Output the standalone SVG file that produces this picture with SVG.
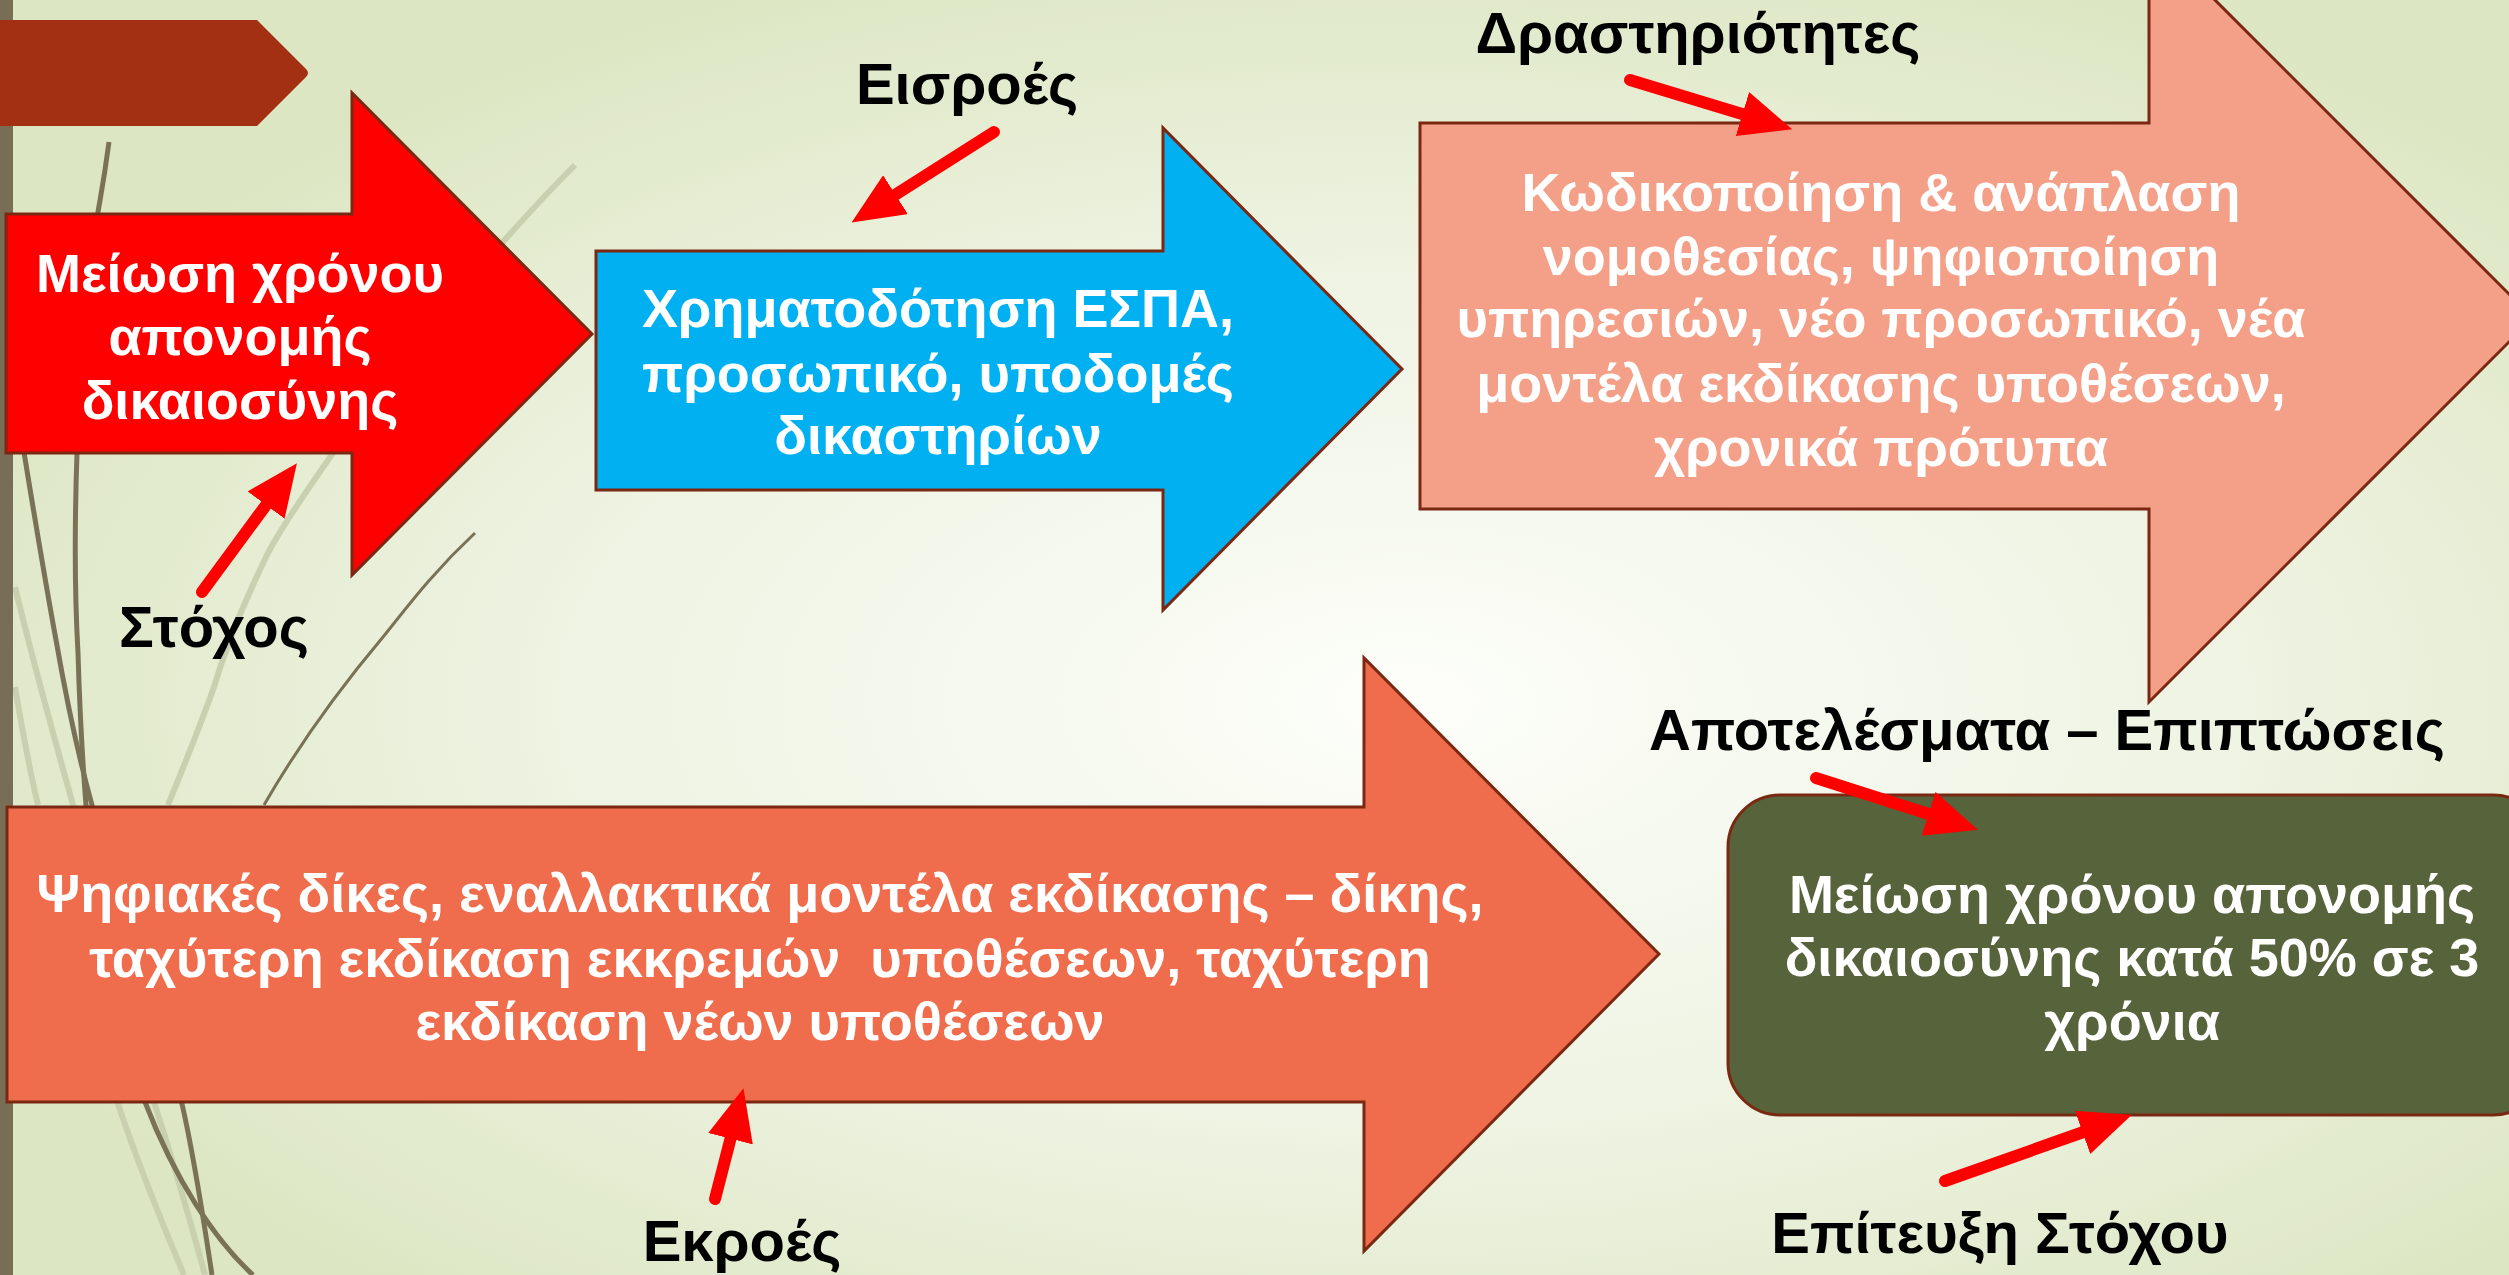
<svg xmlns="http://www.w3.org/2000/svg" width="2509" height="1275" viewBox="0 0 2509 1275">
  <defs>
    <radialGradient id="bg" cx="0.56" cy="0.55" r="0.62">
      <stop offset="0" stop-color="#fdfefa"/>
      <stop offset="0.55" stop-color="#eef3e2"/>
      <stop offset="1" stop-color="#dce6c2"/>
    </radialGradient>
    <marker id="ah" markerUnits="userSpaceOnUse" markerWidth="52" markerHeight="46" refX="10" refY="23" orient="auto" viewBox="0 0 52 46">
      <path d="M0,0 L52,23 L0,46 Z" fill="#ff0000"/>
    </marker>
    <style>
      .shape { stroke: #7b2812; stroke-width: 3; stroke-linejoin: miter; }
      .wt { font-family: "Liberation Sans", Arial, sans-serif; font-weight: bold; font-size: 54px; fill: #ffffff; text-anchor: middle; }
      .lb { font-family: "Liberation Sans", Arial, sans-serif; font-weight: bold; font-size: 58px; fill: #000000; text-anchor: middle; }
      .dk { fill: none; stroke: #7a7256; stroke-width: 5; }
      .dkt { fill: none; stroke: #7a7256; stroke-width: 3; }
      .lt { fill: none; stroke: #c9d0b0; stroke-width: 6; }
      .ltt { fill: none; stroke: #d3d9bd; stroke-width: 3; }
      .conn { stroke: #ff0000; stroke-width: 12; stroke-linecap: round; fill: none; marker-end: url(#ah); }
    </style>
  </defs>

  <rect x="0" y="0" width="2509" height="1275" fill="url(#bg)"/>

  <g id="decoration">
    <path class="lt" d="M15,687 C24,740 32,780 38,805"/>
    <path class="lt" d="M15,587 C35,670 55,740 73,805 C90,900 105,1040 118,1104 C140,1170 165,1230 184,1275"/>
    <path class="lt" d="M575,165 C500,240 400,360 333,453 C300,500 280,530 268,553 C245,600 228,640 214,687 C195,740 178,780 168,805"/>
    <path class="lt" d="M150,1090 C170,1150 190,1220 205,1275"/>
    <path class="dk" d="M22,440 C35,520 45,580 56,640 C70,720 85,780 92,805 C115,900 130,1040 145,1102 C175,1180 215,1240 253,1275"/>
    <path class="dk" d="M109,142 C104,180 100,200 98,212 C88,300 80,400 77,453 C74,540 75,600 78,653 C80,720 84,780 86,805 C110,950 160,1050 182,1104 C195,1160 205,1230 212,1275"/>
    <path class="dkt" d="M475,533 C430,575 405,610 383,637 C330,700 290,760 264,805"/>
    <rect x="0" y="0" width="13" height="1275" fill="#786e55"/>
  </g>

  <g id="tab">
    <path d="M0,20 L257,20 L306,69 Q310,73 306,77 L257,126 L0,126 Z" fill="#a33013"/>
  </g>

  <g id="node-goal">
    <polygon class="shape" points="6,214 352,214 352,93 592,334 352,575 352,453 6,453" fill="#ff0000"/>
    <text class="wt" x="240" y="292">Μείωση χρόνου</text>
    <text class="wt" x="240" y="355">απονομής</text>
    <text class="wt" x="240" y="419">δικαιοσύνης</text>
  </g>

  <g id="node-inputs">
    <polygon class="shape" points="596,251 1163,251 1163,128 1402,369 1163,610 1163,490 596,490" fill="#00b0f0"/>
    <text class="wt" x="938" y="327">Χρηματοδότηση ΕΣΠΑ,</text>
    <text class="wt" x="938" y="392">προσωπικό, υποδομές</text>
    <text class="wt" x="938" y="454">δικαστηρίων</text>
  </g>

  <g id="node-activities">
    <polygon class="shape" points="1420,123 2149,123 2149,-66 2533,318 2149,702 2149,509 1420,509" fill="#f4a088"/>
    <text class="wt" x="1881" y="211">Κωδικοποίηση &amp; ανάπλαση</text>
    <text class="wt" x="1881" y="275">νομοθεσίας, ψηφιοποίηση</text>
    <text class="wt" x="1881" y="337">υπηρεσιών, νέο προσωπικό, νέα</text>
    <text class="wt" x="1881" y="402">μοντέλα εκδίκασης υποθέσεων,</text>
    <text class="wt" x="1881" y="466">χρονικά πρότυπα</text>
  </g>

  <g id="node-outputs">
    <polygon class="shape" points="7,807 1364,807 1364,658 1659,954 1364,1251 1364,1102 7,1102" fill="#ef6d4c"/>
    <text class="wt" x="760" y="912">Ψηφιακές δίκες, εναλλακτικά μοντέλα εκδίκασης – δίκης,</text>
    <text class="wt" x="760" y="977" style="white-space:pre">ταχύτερη εκδίκαση εκκρεμών  υποθέσεων, ταχύτερη</text>
    <text class="wt" x="760" y="1040">εκδίκαση νέων υποθέσεων</text>
  </g>

  <g id="node-result">
    <rect class="shape" x="1728" y="795" width="817" height="320" rx="52" ry="52" fill="#56633b"/>
    <text class="wt" x="2132" y="913">Μείωση χρόνου απονομής</text>
    <text class="wt" x="2132" y="976">δικαιοσύνης κατά 50% σε 3</text>
    <text class="wt" x="2132" y="1040">χρόνια</text>
  </g>

  <g id="labels">
    <text class="lb" x="967" y="104">Εισροές</text>
    <text class="lb" x="214" y="647">Στόχος</text>
    <text class="lb" x="1698" y="53">Δραστηριότητες</text>
    <text class="lb" x="2047" y="750">Αποτελέσματα – Επιπτώσεις</text>
    <text class="lb" x="742" y="1261">Εκροές</text>
    <text class="lb" x="2000" y="1253">Επίτευξη Στόχου</text>
  </g>

  <g id="connectors">
    <line class="conn" x1="994" y1="132" x2="887" y2="200"/>
    <line class="conn" x1="202" y1="592" x2="272" y2="497"/>
    <line class="conn" x1="1630" y1="80" x2="1752" y2="117"/>
    <line class="conn" x1="715" y1="1199" x2="733" y2="1129"/>
    <line class="conn" x1="1816" y1="778" x2="1938" y2="817"/>
    <line class="conn" x1="1945" y1="1181" x2="2092" y2="1129"/>
  </g>
</svg>
